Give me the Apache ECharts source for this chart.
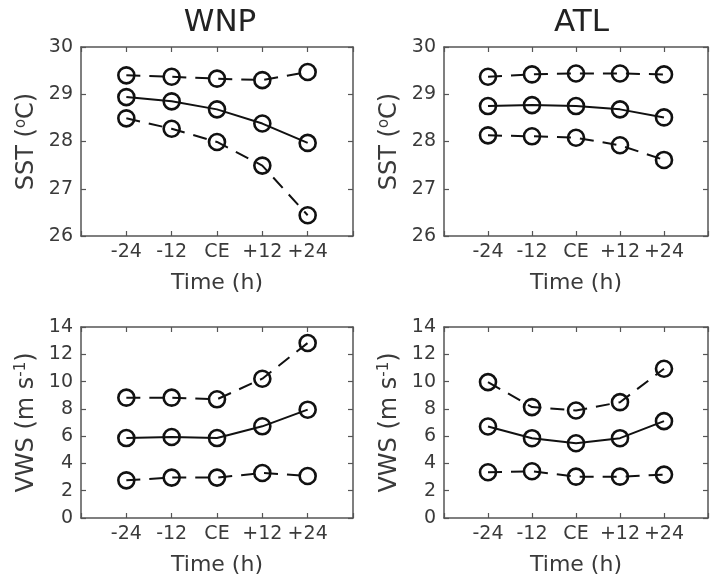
<!DOCTYPE html>
<html>
<head>
<meta charset="utf-8">
<style>
  html, body { margin: 0; padding: 0; background: #fff; }
  #chart { width: 711px; height: 581px; }
</style>
<script src="https://cdn.jsdelivr.net/npm/echarts@6/dist/echarts.min.js"></script>
</head>
<body>
<div id="chart"></div>
<script>
// Composite time labels (hours relative to the centre event)
const categories = ['-24', '-12', 'CE', '+12', '+24'];
const hours = [-24, -12, 0, 12, 24];

// Sea surface temperature (°C): upper bound, mean, lower bound
const wnpSstUpper = [29.40, 29.37, 29.33, 29.30, 29.47];
const wnpSstMean  = [28.94, 28.85, 28.68, 28.38, 27.97];
const wnpSstLower = [28.49, 28.27, 27.99, 27.49, 26.44];
const atlSstUpper = [29.37, 29.42, 29.44, 29.44, 29.42];
const atlSstMean  = [28.75, 28.77, 28.75, 28.68, 28.51];
const atlSstLower = [28.13, 28.11, 28.08, 27.92, 27.61];

// Vertical wind shear (m/s): upper bound, mean, lower bound
const wnpVwsUpper = [8.82, 8.82, 8.70, 10.21, 12.83];
const wnpVwsMean  = [5.86, 5.94, 5.86, 6.72, 7.94];
const wnpVwsLower = [2.76, 2.96, 2.96, 3.30, 3.08];
const atlVwsUpper = [9.96, 8.13, 7.88, 8.49, 10.94];
const atlVwsMean  = [6.71, 5.85, 5.48, 5.85, 7.10];
const atlVwsLower = [3.35, 3.43, 3.03, 3.03, 3.18];

// Tick values of the two kinds of y axis
const sstTicks = [26, 27, 28, 29, 30];
const vwsTicks = [0, 2, 4, 6, 8, 10, 12, 14];

const basins = ['WNP', 'ATL'];

const FONT = 'DejaVu Sans';
const INK = '#111';
const FRAME = '#555';
const LABEL = '#3a3a3a';

const grids = [
  { left: 81,  top: 47,  width: 272, height: 189 },
  { left: 444, top: 47,  width: 275, height: 189 },
  { left: 81,  top: 327, width: 272, height: 191 },
  { left: 444, top: 327, width: 275, height: 191 }
];

const panels = [
  { ticks: sstTicks, name: 'SST ({sup|o}C)', sets: [wnpSstUpper, wnpSstMean, wnpSstLower] },
  { ticks: sstTicks, name: 'SST ({sup|o}C)', sets: [atlSstUpper, atlSstMean, atlSstLower] },
  { ticks: vwsTicks, name: 'VWS (m s{sup|-1})', sets: [wnpVwsUpper, wnpVwsMean, wnpVwsLower] },
  { ticks: vwsTicks, name: 'VWS (m s{sup|-1})', sets: [atlVwsUpper, atlVwsMean, atlVwsLower] }
];

const frameLine = { show: true, onZero: false, lineStyle: { color: FRAME, width: 1.5 } };
const innerTick = { show: true, inside: true, length: 5, lineStyle: { color: FRAME, width: 1.2 } };

const xAxes = [];
const yAxes = [];
const series = [];

panels.forEach((p, gi) => {
  const step = p.ticks[1] - p.ticks[0];
  const yMin = p.ticks[0];
  const yMax = p.ticks[p.ticks.length - 1];

  // bottom axis with labels
  xAxes.push({
    gridIndex: gi, type: 'value', position: 'bottom',
    min: -36, max: 36, interval: 12,
    axisLine: frameLine, axisTick: innerTick, splitLine: { show: false },
    axisLabel: {
      color: LABEL, fontFamily: FONT, fontSize: 19, margin: 7,
      formatter: v => { const i = hours.indexOf(v); return i >= 0 ? categories[i] : ''; }
    },
    name: 'Time (h)', nameLocation: 'middle', nameGap: 36,
    nameTextStyle: { color: LABEL, fontFamily: FONT, fontSize: 22 }
  });
  // top mirror axis (frame + ticks only)
  xAxes.push({
    gridIndex: gi, type: 'value', position: 'top',
    min: -36, max: 36, interval: 12,
    axisLine: frameLine, axisTick: innerTick, splitLine: { show: false },
    axisLabel: { show: false }
  });
  // left axis with labels
  yAxes.push({
    gridIndex: gi, type: 'value', position: 'left',
    min: yMin, max: yMax, interval: step,
    axisLine: frameLine, axisTick: innerTick, splitLine: { show: false },
    axisLabel: { color: LABEL, fontFamily: FONT, fontSize: 19, margin: 8 },
    name: p.name, nameLocation: 'middle', nameRotate: 90, nameGap: 42,
    nameTextStyle: {
      color: LABEL, fontFamily: FONT, fontSize: 24,
      rich: { sup: { color: LABEL, fontFamily: FONT, fontSize: 15, verticalAlign: 'top', padding: [0, 0, 10, 0] } }
    }
  });
  // right mirror axis
  yAxes.push({
    gridIndex: gi, type: 'value', position: 'right',
    min: yMin, max: yMax, interval: step,
    axisLine: frameLine, axisTick: innerTick, splitLine: { show: false },
    axisLabel: { show: false }
  });

  p.sets.forEach((vals, si) => {
    series.push({
      type: 'line',
      xAxisIndex: gi * 2, yAxisIndex: gi * 2,
      data: hours.map((h, i) => [h, vals[i]]),
      symbol: 'circle', symbolSize: 16,
      itemStyle: { color: 'rgba(0,0,0,0)', borderColor: INK, borderWidth: 2.6 },
      lineStyle: { color: INK, width: 2, type: si === 1 ? 'solid' : [14, 9] },
      emphasis: { disabled: true },
      silent: true
    });
  });
});

const chart = echarts.init(document.getElementById('chart'), null, { renderer: 'canvas' });
chart.setOption({
  animation: false,
  backgroundColor: '#fff',
  grid: grids,
  xAxis: xAxes,
  yAxis: yAxes,
  series: series,
  graphic: basins.map((b, i) => ({
    type: 'text',
    x: grids[i].left + grids[i].width / 2 + (i === 0 ? 3 : 0),
    y: 23,
    style: { text: b, fill: '#222', font: '31px "DejaVu Sans"', align: 'center', verticalAlign: 'middle' }
  }))
});
</script>
</body>
</html>
